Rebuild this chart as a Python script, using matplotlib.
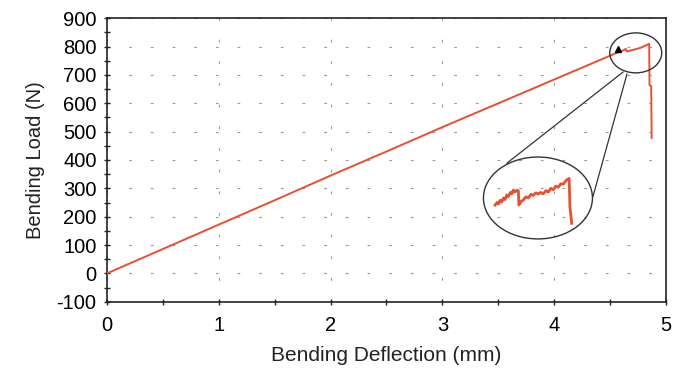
import matplotlib
matplotlib.use("Agg")
import matplotlib.pyplot as plt
from matplotlib.patches import Ellipse
from matplotlib.ticker import MultipleLocator

plt.rcParams["font.family"] = ["Liberation Sans", "DejaVu Sans"]
plt.rcParams["axes.unicode_minus"] = False

# main load-deflection curve
deflection = [0, 0.5, 1.0, 1.5, 2.0, 2.5, 3.0, 3.5, 4.0, 4.5, 4.57, 4.62, 4.64, 4.65,
              4.72, 4.78, 4.85, 4.853, 4.868, 4.872]
load = [0, 86, 172, 258, 345, 430, 516, 600, 684, 768, 780, 787, 792, 783,
        790, 797, 810, 664, 660, 478]

# magnified detail near the peak (shown inside the big ellipse)
zoom_defl = [4.570, 4.578, 4.583, 4.590, 4.596, 4.603, 4.609, 4.616, 4.622, 4.630, 4.635,
             4.642, 4.648, 4.655, 4.661, 4.663, 4.672, 4.680, 4.690, 4.700, 4.710, 4.719,
             4.729, 4.739, 4.748, 4.758, 4.768, 4.778, 4.787, 4.797, 4.807, 4.817, 4.826,
             4.836, 4.848, 4.859, 4.862, 4.869]
zoom_load = [790.0, 791.8, 790.8, 793.4, 792.2, 795.0, 793.9, 797.2, 796.0, 799.0, 798.0,
             800.6, 799.3, 800.5, 800.1, 790.0, 792.6, 793.5, 795.8, 795.0, 797.6, 796.8,
             798.6, 797.8, 799.0, 797.9, 800.2, 799.2, 801.8, 800.8, 803.4, 802.6, 805.0,
             804.8, 807.6, 808.8, 788.8, 777.1]

x_ticks = [0, 1, 2, 3, 4, 5]
y_ticks = [-100, 0, 100, 200, 300, 400, 500, 600, 700, 800, 900]

red = "#e8502f"

fig = plt.figure(figsize=(6.85, 3.69), dpi=100)
ax = fig.add_axes([0.1562, 0.1824, 0.816, 0.768])

ax.plot(deflection, load, color=red, linewidth=1.4, zorder=3)
ax.plot([4.57], [792], marker="^", color="black", markersize=5, zorder=4)

ax.set_xlim(0, 5)
ax.set_ylim(-100, 900)
ax.set_xticks(x_ticks)
ax.set_yticks(y_ticks)
ax.xaxis.set_minor_locator(MultipleLocator(0.5))
ax.yaxis.set_minor_locator(MultipleLocator(50))
ax.tick_params(which="both", direction="inout", length=5, width=1.0, labelsize=14.5, color="#222222")
ax.tick_params(axis="x", pad=8)
ax.tick_params(axis="y", pad=5)
for sp in ax.spines.values():
    sp.set_linewidth(1.2)
    sp.set_color("#222222")

ax.grid(True, which="major", color="#9a9a9a", linewidth=0.8, linestyle=(0, (2.5, 17)))

ax.set_xlabel("Bending Deflection (mm)", fontsize=15, color="#222222", labelpad=8)
ax.set_ylabel("Bending Load (N)", fontsize=14.5, color="#222222", labelpad=8)

# small ellipse around the peak, big ellipse with the magnified view
ax.add_patch(Ellipse((4.73, 778), 0.465, 141, fill=False, edgecolor="#333333", linewidth=1.0, zorder=5))
ax.add_patch(Ellipse((3.855, 266), 0.975, 289, fill=False, edgecolor="#333333", linewidth=1.0, zorder=5))
ax.plot([4.615, 3.578], [710, 389], color="#333333", linewidth=0.9, zorder=5)
ax.plot([4.651, 4.347], [703, 271], color="#333333", linewidth=0.9, zorder=5)

inset = fig.add_axes([484 / 685, 1 - 239 / 369, 109 / 685, 82 / 369])
inset.plot(zoom_defl, zoom_load, color=red, linewidth=2.0)
inset.set_xlim(4.527, 4.952)
inset.set_ylim(766, 824)
inset.axis("off")
inset.patch.set_alpha(0)

fig.savefig("out.png", dpi=100)
